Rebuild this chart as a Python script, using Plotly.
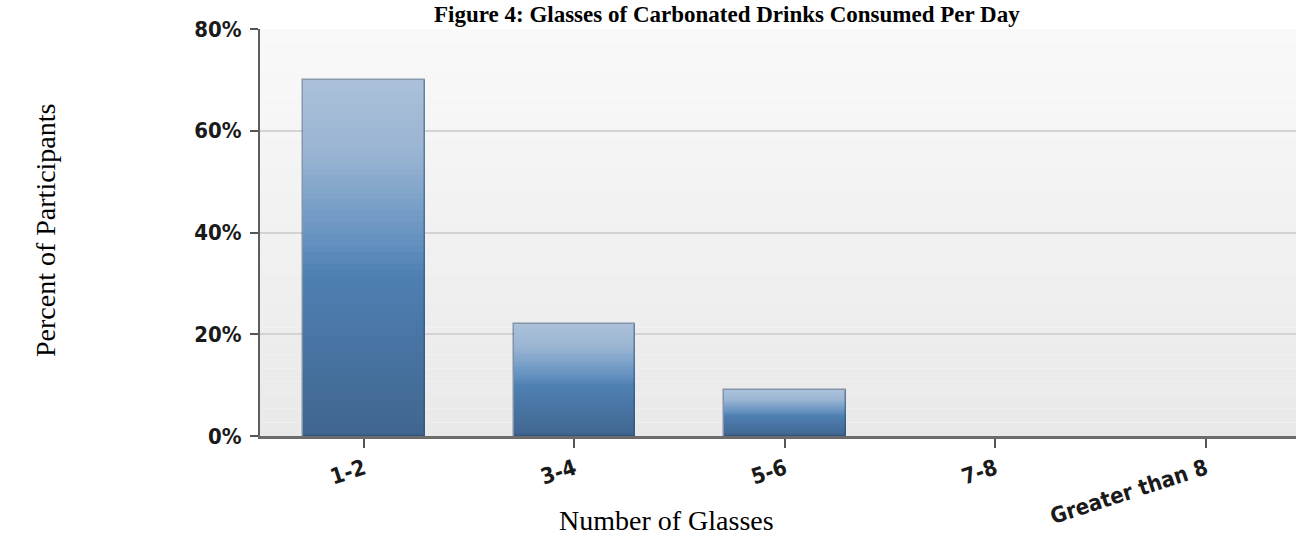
import plotly.graph_objects as go

# Survey results: glasses of carbonated drinks per day
categories = ["1-2", "3-4", "5-6", "7-8", "Greater than 8"]
percent_participants = [70, 22, 9, 0, 0]
y_tick_values = [0, 20, 40, 60, 80]
y_tick_labels = ["0%", "20%", "40%", "60%", "80%"]

TITLE = "Figure 4: Glasses of Carbonated Drinks Consumed Per Day"
X_TITLE = "Number of Glasses"
Y_TITLE = "Percent of Participants"

# vertical gradient stops for the bars (fraction from bottom -> rgb)
GRAD_STOPS = [
    (0.00, (64, 102, 143)),
    (0.45, (78, 127, 178)),
    (0.55, (101, 146, 192)),
    (0.80, (154, 181, 211)),
    (1.00, (171, 193, 217)),
]


def grad_color(t):
    for (t0, c0), (t1, c1) in zip(GRAD_STOPS[:-1], GRAD_STOPS[1:]):
        if t0 <= t <= t1:
            f = (t - t0) / (t1 - t0) if t1 > t0 else 0
            r, g, b = (round(a + (bb - a) * f) for a, bb in zip(c0, c1))
            return f"rgb({r},{g},{b})"
    return "rgb(%d,%d,%d)" % GRAD_STOPS[-1][1]


BAR_WIDTH = 0.576
N_SLICES = 60

fig = go.Figure()

# each bar is built from stacked slices so it can carry a vertical gradient
for k in range(N_SLICES):
    t = (k + 0.5) / N_SLICES
    fig.add_trace(go.Bar(
        x=categories,
        y=[v / N_SLICES for v in percent_participants],
        base=[v * k / N_SLICES for v in percent_participants],
        width=BAR_WIDTH,
        marker=dict(color=grad_color(t), line=dict(width=0)),
        showlegend=False,
        hoverinfo="skip",
    ))

# outline over the whole bar (none for empty categories)
fig.add_trace(go.Bar(
    x=categories,
    y=percent_participants,
    width=BAR_WIDTH,
    marker=dict(
        color="rgba(0,0,0,0)",
        line=dict(color="rgba(45,75,115,0.55)",
                  width=[1.5 if v > 0 else 0 for v in percent_participants]),
    ),
    showlegend=False,
    hovertemplate="%{x}: %{y}%<extra></extra>",
))

# soft vertical background gradient inside the plotting area
shapes = []
N_BANDS = 30
for i in range(N_BANDS):
    y0 = i / N_BANDS
    y1 = (i + 1) / N_BANDS
    shade = round(233 + (249 - 233) * (i + 0.5) / N_BANDS)
    shapes.append(dict(
        type="rect", xref="x domain", yref="y domain",
        x0=0, x1=1, y0=y0, y1=y1,
        fillcolor=f"rgb({shade},{shade},{shade})",
        line=dict(width=0), layer="below",
    ))

tick_font = dict(family="DejaVu Sans Condensed, Liberation Sans Narrow, Arial Narrow, sans-serif",
                 size=22, color="#1a1a1a", weight="bold")
serif = "Liberation Serif, Times New Roman, serif"

fig.update_layout(
    width=1296, height=541,
    margin=dict(l=260, r=0, t=29, b=105),
    paper_bgcolor="white",
    plot_bgcolor="rgba(0,0,0,0)",
    barmode="overlay",
    bargap=0,
    shapes=shapes,
    showlegend=False,
    xaxis=dict(
        range=[-0.494, 4.428],
        showgrid=False,
        showline=True, linecolor="#6b6b6b", linewidth=2.5,
        ticks="outside", ticklen=9, tickwidth=1.5, tickcolor="#555",
        tickangle=-18,
        tickfont=tick_font,
        zeroline=False,
    ),
    yaxis=dict(
        range=[0, 80],
        tickvals=y_tick_values, ticktext=y_tick_labels,
        showgrid=True, gridcolor="#d3d3d3", gridwidth=2,
        showline=True, linecolor="#5e5e5e", linewidth=2,
        ticks="outside", ticklen=8, tickwidth=1.5, tickcolor="#555",
        ticklabelstandoff=4,
        tickfont=tick_font,
        zeroline=False,
    ),
    annotations=[
        dict(text=f"<b>{TITLE}</b>", xref="paper", yref="paper",
             x=(727 - 260) / 1036, y=1, xanchor="center", yanchor="bottom",
             yshift=0, showarrow=False,
             font=dict(family=serif, size=23, color="black")),
        dict(text=X_TITLE, xref="paper", yref="paper",
             x=(666 - 260) / 1036, y=0, xanchor="center", yanchor="middle",
             yshift=-(520 - 436), showarrow=False,
             font=dict(family=serif, size=28, color="black")),
        dict(text=Y_TITLE, xref="paper", yref="paper",
             x=0, y=(436 - 231) / 407, xanchor="center", yanchor="middle",
             xshift=-(260 - 45), textangle=-90, showarrow=False,
             font=dict(family=serif, size=28, color="black")),
    ],
)

fig.write_html("out.html")
